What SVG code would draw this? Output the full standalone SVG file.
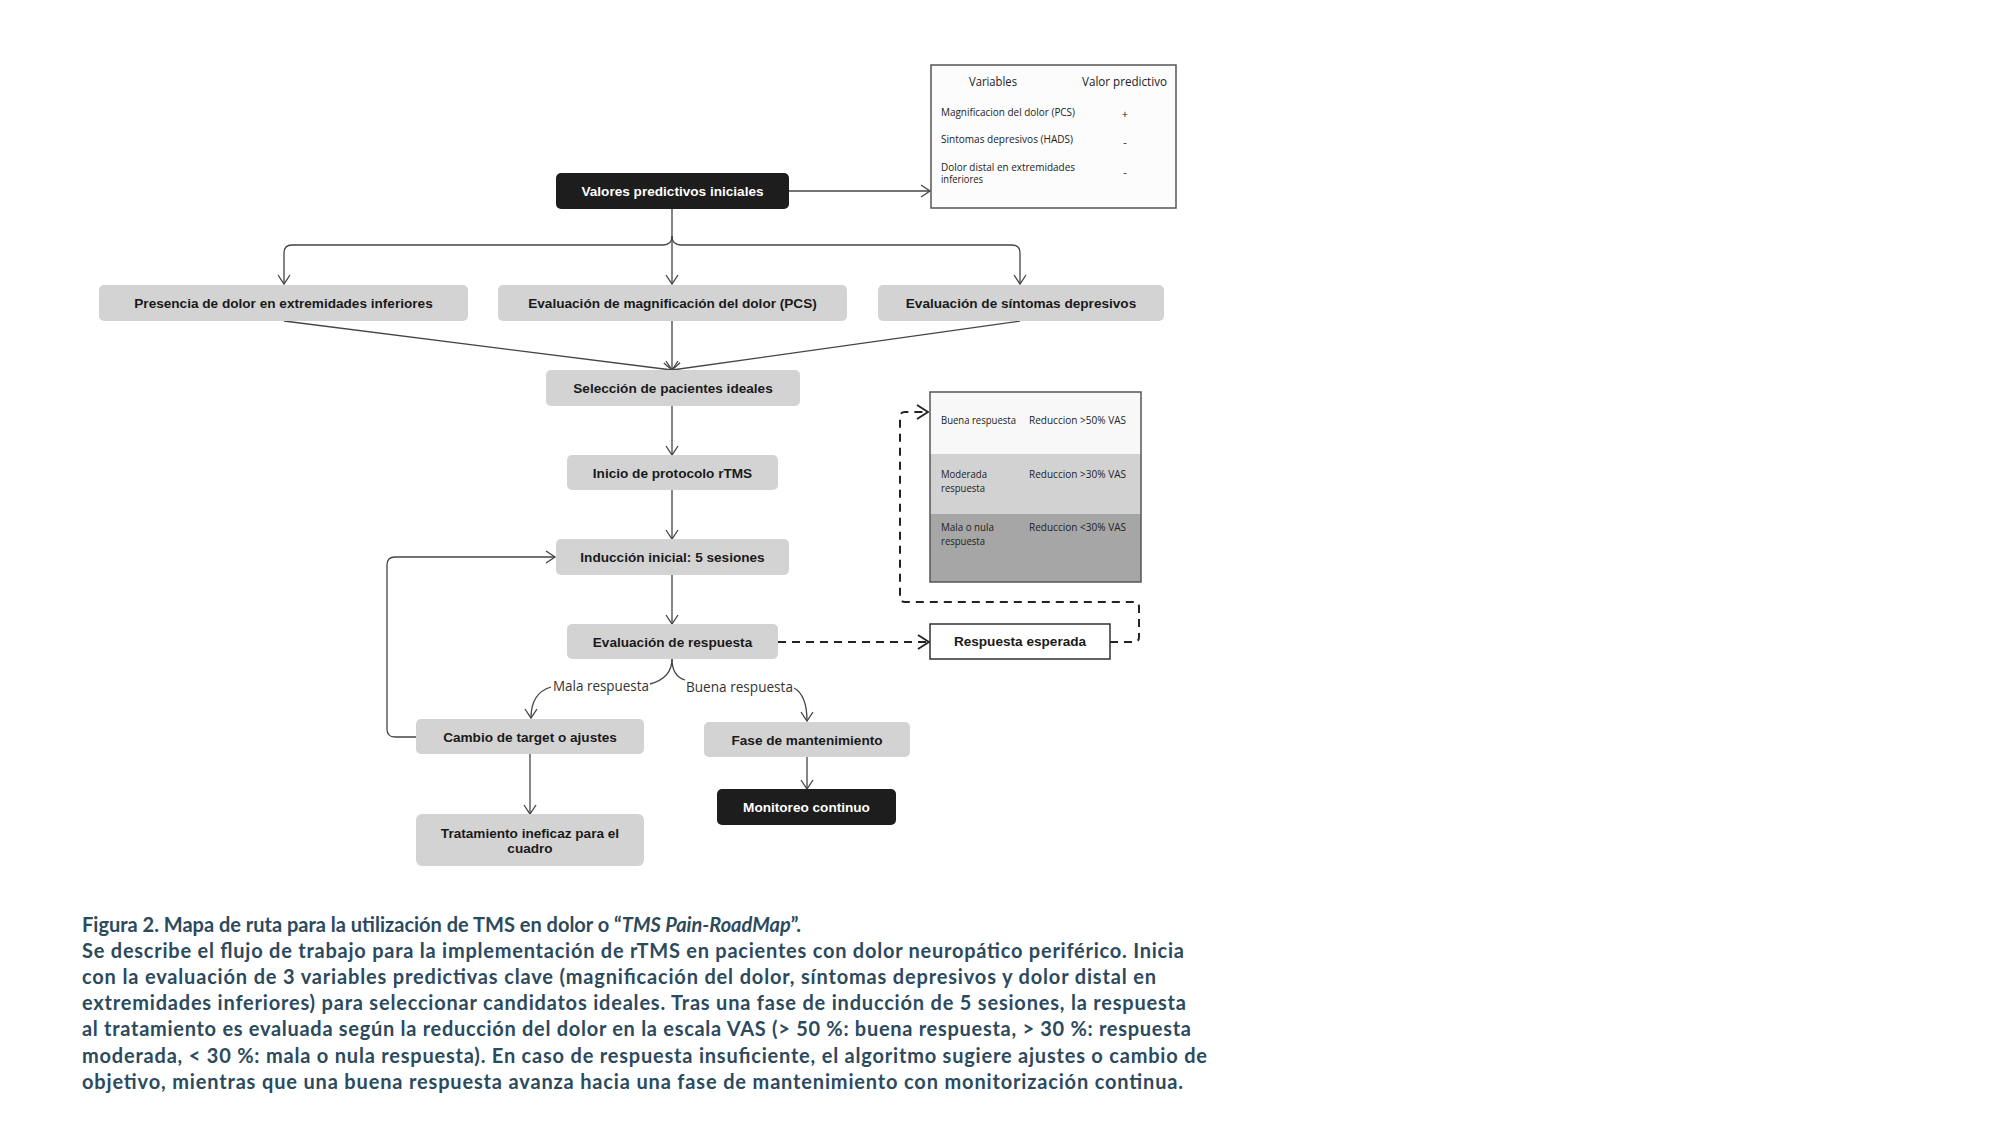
<svg xmlns="http://www.w3.org/2000/svg" width="2000" height="1146" viewBox="0 0 2000 1146">
<style>
  .box{fill:#d3d3d3;}
  .dark{fill:#1d1d1d;}
  .t{font-family:"Liberation Sans",Arial,sans-serif;font-weight:bold;font-size:13.6px;fill:#1a1a1a;text-anchor:middle;}
  .tw{font-family:"Liberation Sans",Arial,sans-serif;font-weight:bold;font-size:13.6px;fill:#ffffff;text-anchor:middle;}
  .lbl{font-family:"Open Sans","Noto Sans",sans-serif;font-size:14px;fill:#333333;}
  .tab{font-family:"Open Sans","Noto Sans",sans-serif;font-size:11px;fill:#222222;}
  .tabh{font-family:"Open Sans","Noto Sans",sans-serif;font-size:12.5px;fill:#222222;}
  .ln{fill:none;stroke:#444444;stroke-width:1.3;}
  .dash{fill:none;stroke:#222222;stroke-width:2;stroke-dasharray:8 6;}
  .cap{font-family:Lato,"Source Sans Pro","Noto Sans",sans-serif;font-weight:bold;font-size:20px;fill:#2c4a5e;}
</style>
<defs>
  <marker id="ah" markerUnits="userSpaceOnUse" markerWidth="12" markerHeight="14" viewBox="0 0 12 14" refX="10" refY="7" orient="auto">
    <path d="M1,1 L10,7 L1,13" fill="none" stroke="#444444" stroke-width="1.3"/>
  </marker>
  <marker id="ahd" markerUnits="userSpaceOnUse" markerWidth="14" markerHeight="16" viewBox="0 0 14 16" refX="12" refY="8" orient="auto">
    <path d="M1,1 L12,8 L1,15" fill="none" stroke="#222222" stroke-width="1.8"/>
  </marker>
</defs>
<rect width="2000" height="1146" fill="#ffffff"/>

<g id="connectors">
  <path class="ln" d="M789,191 H930" marker-end="url(#ah)"/>
  <path class="ln" d="M672,209 V284" marker-end="url(#ah)"/>
  <path class="ln" d="M672,236 Q672,245 663,245 H292 Q284,245 284,253 V284" marker-end="url(#ah)"/>
  <path class="ln" d="M672,236 Q672,245 681,245 H1012 Q1020,245 1020,253 V284" marker-end="url(#ah)"/>
  <path class="ln" d="M284,321 L672,370" marker-end="url(#ah)"/>
  <path class="ln" d="M1020,321 L672,370" marker-end="url(#ah)"/>
  <path class="ln" d="M672,321 V370" marker-end="url(#ah)"/>
  <path class="ln" d="M672,406 V455" marker-end="url(#ah)"/>
  <path class="ln" d="M672,490 V539" marker-end="url(#ah)"/>
  <path class="ln" d="M672,575 V624" marker-end="url(#ah)"/>
  <path class="ln" d="M416,737 H395 Q387,737 387,729 V565 Q387,557 395,557 H555" marker-end="url(#ah)"/>
  <path class="ln" d="M672,659 Q672,678 650,684"/>
  <path class="ln" d="M551,687 Q531,693 531,718" marker-end="url(#ah)"/>
  <path class="ln" d="M672,659 Q672,676 685,680"/>
  <path class="ln" d="M794,688 Q807,695 807,721" marker-end="url(#ah)"/>
  <path class="ln" d="M530,754 V814" marker-end="url(#ah)"/>
  <path class="ln" d="M807,757 V789" marker-end="url(#ah)"/>
  <path class="dash" d="M778,642 H929" marker-end="url(#ahd)"/>
  <path class="dash" d="M1110,642 H1134 Q1139,642 1139,637 V607 Q1139,602 1134,602 H905 Q900,602 900,597 V417 Q900,412 905,412 H928" marker-end="url(#ahd)"/>
  <text class="lbl" x="553" y="691" textLength="96" lengthAdjust="spacingAndGlyphs">Mala respuesta</text>
  <text class="lbl" x="686" y="692" textLength="107" lengthAdjust="spacingAndGlyphs">Buena respuesta</text>
</g>

<g id="node-valores">
  <rect class="dark" x="556" y="173" width="233" height="36" rx="5"/>
  <text class="tw" x="672.5" y="196">Valores predictivos iniciales</text>
</g>
<g id="node-presencia">
  <rect class="box" x="99" y="285" width="369" height="36" rx="5"/>
  <text class="t" x="283.5" y="308">Presencia de dolor en extremidades inferiores</text>
</g>
<g id="node-pcs">
  <rect class="box" x="498" y="285" width="349" height="36" rx="5"/>
  <text class="t" x="672.5" y="308">Evaluación de magnificación del dolor (PCS)</text>
</g>
<g id="node-sintomas">
  <rect class="box" x="878" y="285" width="286" height="36" rx="5"/>
  <text class="t" x="1021" y="308">Evaluación de síntomas depresivos</text>
</g>
<g id="node-seleccion">
  <rect class="box" x="546" y="370" width="254" height="36" rx="5"/>
  <text class="t" x="673" y="393">Selección de pacientes ideales</text>
</g>
<g id="node-inicio">
  <rect class="box" x="567" y="455" width="211" height="35" rx="5"/>
  <text class="t" x="672.5" y="477.5">Inicio de protocolo rTMS</text>
</g>
<g id="node-induccion">
  <rect class="box" x="556" y="539" width="233" height="36" rx="5"/>
  <text class="t" x="672.5" y="562">Inducción inicial: 5 sesiones</text>
</g>
<g id="node-evaluacion">
  <rect class="box" x="567" y="624" width="211" height="35" rx="5"/>
  <text class="t" x="672.5" y="646.5">Evaluación de respuesta</text>
</g>
<g id="node-cambio">
  <rect class="box" x="416" y="719" width="228" height="35" rx="5"/>
  <text class="t" x="530" y="741.5">Cambio de target o ajustes</text>
</g>
<g id="node-fase">
  <rect class="box" x="704" y="722" width="206" height="35" rx="5"/>
  <text class="t" x="807" y="744.5">Fase de mantenimiento</text>
</g>
<g id="node-monitoreo">
  <rect class="dark" x="717" y="789" width="179" height="36" rx="5"/>
  <text class="tw" x="806.5" y="812">Monitoreo continuo</text>
</g>
<g id="node-tratamiento">
  <rect class="box" x="416" y="814" width="228" height="52" rx="6"/>
  <text class="t" x="530" y="837.5">Tratamiento ineficaz para el</text>
  <text class="t" x="530" y="853">cuadro</text>
</g>
<g id="node-respuesta-esperada">
  <rect x="930" y="624" width="180" height="35" fill="#ffffff" stroke="#333333" stroke-width="1.5"/>
  <text class="t" x="1020" y="646">Respuesta esperada</text>
</g>

<g id="table-variables">
  <rect x="931" y="65" width="245" height="143" fill="#fcfcfc" stroke="#555555" stroke-width="1.5"/>
  <text class="tabh" x="969" y="86" textLength="48" lengthAdjust="spacingAndGlyphs">Variables</text>
  <text class="tabh" x="1082" y="86" textLength="85" lengthAdjust="spacingAndGlyphs">Valor predictivo</text>
  <text class="tab" x="941" y="115.5" textLength="134" lengthAdjust="spacingAndGlyphs">Magnificacion del dolor (PCS)</text>
  <text class="tab" x="1125" y="118" text-anchor="middle">+</text>
  <text class="tab" x="941" y="143" textLength="132" lengthAdjust="spacingAndGlyphs">Sintomas depresivos (HADS)</text>
  <text class="tab" x="1125" y="146" text-anchor="middle">-</text>
  <text class="tab" x="941" y="171" textLength="134" lengthAdjust="spacingAndGlyphs">Dolor distal en extremidades</text>
  <text class="tab" x="941" y="183" textLength="42" lengthAdjust="spacingAndGlyphs">inferiores</text>
  <text class="tab" x="1125" y="176" text-anchor="middle">-</text>
</g>

<g id="table-respuesta">
  <rect x="930" y="392" width="211" height="62" fill="#f8f8f8"/>
  <rect x="930" y="454" width="211" height="60" fill="#d2d2d2"/>
  <rect x="930" y="514" width="211" height="68" fill="#a6a6a6"/>
  <rect x="930" y="392" width="211" height="190" fill="none" stroke="#555555" stroke-width="1.5"/>
  <text class="tab" x="941" y="424" textLength="75" lengthAdjust="spacingAndGlyphs">Buena respuesta</text>
  <text class="tab" x="1029" y="424" textLength="97" lengthAdjust="spacingAndGlyphs">Reduccion &gt;50% VAS</text>
  <text class="tab" x="941" y="478" textLength="46" lengthAdjust="spacingAndGlyphs">Moderada</text>
  <text class="tab" x="941" y="491.5" textLength="44" lengthAdjust="spacingAndGlyphs">respuesta</text>
  <text class="tab" x="1029" y="478" textLength="97" lengthAdjust="spacingAndGlyphs">Reduccion &gt;30% VAS</text>
  <text class="tab" x="941" y="530.5" textLength="53" lengthAdjust="spacingAndGlyphs">Mala o nula</text>
  <text class="tab" x="941" y="545" textLength="44" lengthAdjust="spacingAndGlyphs">respuesta</text>
  <text class="tab" x="1029" y="530.5" textLength="97" lengthAdjust="spacingAndGlyphs">Reduccion &lt;30% VAS</text>
</g>

<g id="caption">
  <text class="cap" x="82" y="931.5">Figura 2. Mapa de ruta para la utilización de TMS en dolor o “<tspan font-style="italic">TMS Pain-RoadMap</tspan>”.</text>
  <text class="cap" x="82" y="957.7" textLength="1102" lengthAdjust="spacing">Se describe el flujo de trabajo para la implementación de rTMS en pacientes con dolor neuropático periférico. Inicia</text>
  <text class="cap" x="82" y="983.9" textLength="1074" lengthAdjust="spacing">con la evaluación de 3 variables predictivas clave (magnificación del dolor, síntomas depresivos y dolor distal en</text>
  <text class="cap" x="82" y="1010.1" textLength="1104" lengthAdjust="spacing">extremidades inferiores) para seleccionar candidatos ideales. Tras una fase de inducción de 5 sesiones, la respuesta</text>
  <text class="cap" x="82" y="1036.3" textLength="1109" lengthAdjust="spacing">al tratamiento es evaluada según la reducción del dolor en la escala VAS (&gt; 50 %: buena respuesta, &gt; 30 %: respuesta</text>
  <text class="cap" x="82" y="1062.5" textLength="1125" lengthAdjust="spacing">moderada, &lt; 30 %: mala o nula respuesta). En caso de respuesta insuficiente, el algoritmo sugiere ajustes o cambio de</text>
  <text class="cap" x="82" y="1088.7" textLength="1101" lengthAdjust="spacing">objetivo, mientras que una buena respuesta avanza hacia una fase de mantenimiento con monitorización continua.</text>
</g>
</svg>
